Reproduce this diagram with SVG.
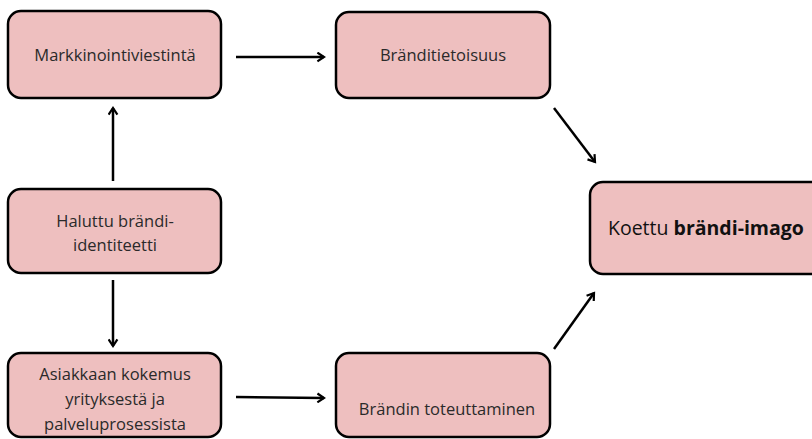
<svg xmlns="http://www.w3.org/2000/svg" width="812" height="439" viewBox="0 0 812 439">
<defs>
<style>
.box{fill:#eebfbf;stroke:#000;stroke-width:2.5}
.t{font-family:"Open Sans","DejaVu Sans",sans-serif;font-size:16.5px;fill:#2a2a2a;text-anchor:middle}
.big{font-family:"Open Sans","DejaVu Sans",sans-serif;font-size:19.5px;fill:#111}
.c{stroke:#000;stroke-width:2.5;fill:none}
</style>
<marker id="ah" viewBox="0 0 10 10" refX="8" refY="5" markerWidth="4.4" markerHeight="4.4" orient="auto" markerUnits="strokeWidth">
<polyline points="2,1 8,5 2,9" fill="none" stroke="#000" stroke-width="2"/>
</marker>
</defs>
<rect width="812" height="439" fill="#fff"/>
<g id="connectors">
<line class="c" x1="236" y1="57" x2="324" y2="57" marker-end="url(#ah)"/>
<line class="c" x1="113" y1="181" x2="113" y2="108" marker-end="url(#ah)"/>
<line class="c" x1="113" y1="280" x2="113" y2="346" marker-end="url(#ah)"/>
<line class="c" x1="236" y1="397" x2="324" y2="398" marker-end="url(#ah)"/>
<line class="c" x1="554" y1="108" x2="595" y2="162" marker-end="url(#ah)"/>
<line class="c" x1="554" y1="349" x2="594" y2="293" marker-end="url(#ah)"/>
</g>
<g id="markkinointi">
<rect class="box" x="8" y="11" width="213" height="87" rx="13"/>
<text class="t" x="115" y="61">Markkinointiviestintä</text>
</g>
<g id="tietoisuus">
<rect class="box" x="336" y="12" width="214" height="86" rx="13"/>
<text class="t" x="443" y="61">Bränditietoisuus</text>
</g>
<g id="identiteetti">
<rect class="box" x="8" y="189" width="213" height="84" rx="13"/>
<text class="t" x="115" y="227">Haluttu brändi-</text>
<text class="t" x="115" y="251">identiteetti</text>
</g>
<g id="asiakas">
<rect class="box" x="8" y="353" width="213" height="84" rx="13"/>
<text class="t" x="115" y="380">Asiakkaan kokemus</text>
<text class="t" x="115" y="405">yrityksestä ja</text>
<text class="t" x="115" y="430">palveluprosessista</text>
</g>
<g id="toteuttaminen">
<rect class="box" x="336" y="353" width="214" height="84" rx="13"/>
<text class="t" x="447" y="415">Brändin toteuttaminen</text>
</g>
<g id="imago">
<rect class="box" x="590" y="182" width="240" height="92" rx="13"/>
<text class="big" x="608" y="235">Koettu <tspan font-weight="bold">brändi-imago</tspan></text>
</g>
</svg>
